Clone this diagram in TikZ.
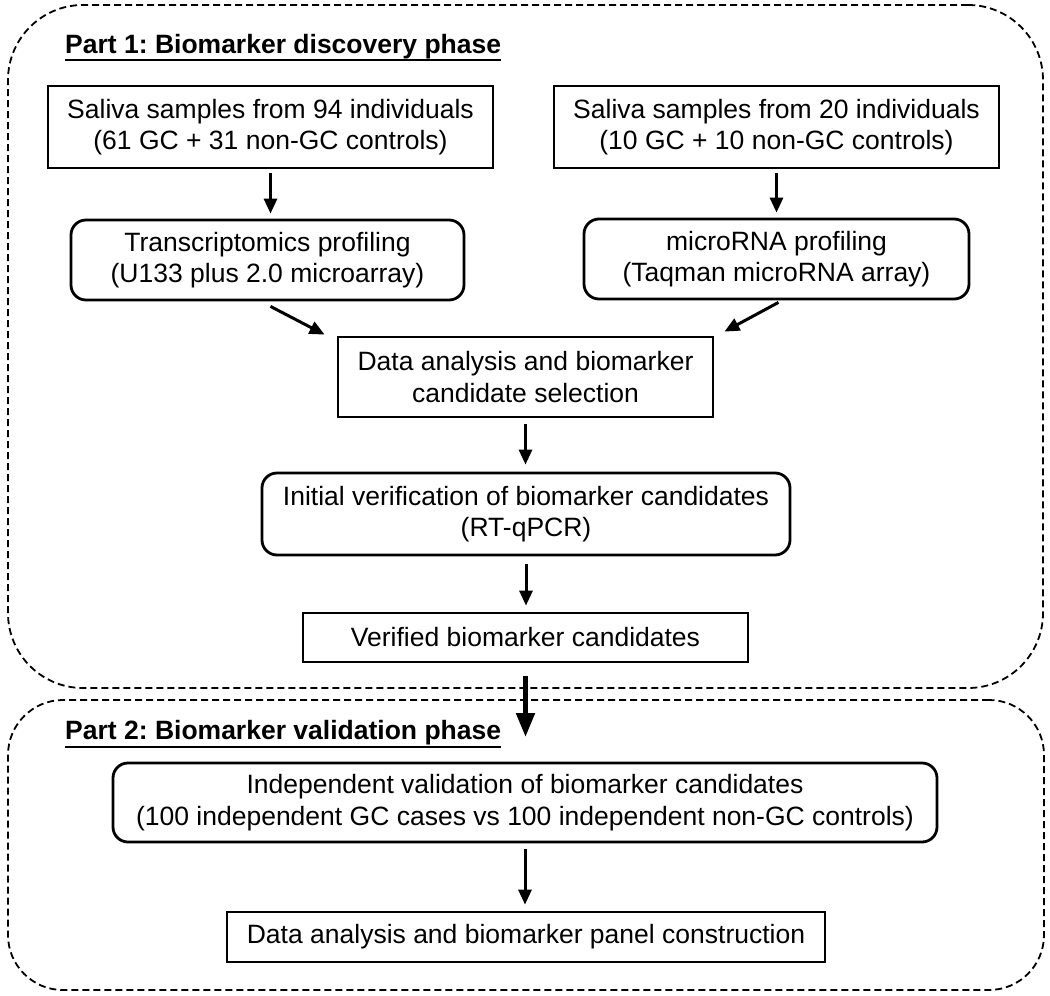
\documentclass[tikz,border=0pt]{standalone}
\usepackage{fontspec}
\setmainfont{Liberation Sans}
\usetikzlibrary{arrows.meta,calc}
\frenchspacing
\begin{document}
\begin{tikzpicture}[x=1pt,y=-1pt,
  txt/.style={font=\fontsize{26.5}{31.5}\selectfont, align=center, inner sep=0pt},
  sqbox/.style={txt, draw, line width=2.8pt},
  rdbox/.style={sqbox, rounded corners=15pt},
  phase/.style={draw, dash pattern=on 7pt off 4pt, line width=1.8pt, inner sep=0pt},
  arr/.style={line width=3pt, -{Triangle[length=15pt,width=13pt]}},
  bigarr/.style={line width=5pt, -{Triangle[length=24pt,width=18pt]}},
  title/.style={font=\fontsize{26.5}{30}\selectfont\bfseries, inner sep=0pt, anchor=base west},
  uline/.style={line width=2.4pt}
]
\useasboundingbox (0,0) rectangle (1050,996);

% phase containers
\node[phase, rounded corners=75pt, minimum width=1035pt, minimum height=683pt] (part1) at (525.5,346.5) {};
\node[phase, rounded corners=55pt, minimum width=1036pt, minimum height=290pt] (part2) at (526,845) {};

% titles
\node[title] (t1) at (65,53) {Part 1: Biomarker discovery phase};
\draw[uline] ($(t1.base west)+(0,7)$) -- ($(t1.base east)+(0,7)$);
\node[title] (t2) at (65,739) {Part 2: Biomarker validation phase};
\draw[uline] ($(t2.base west)+(0,8)$) -- ($(t2.base east)+(0,8)$);

% boxes
\node[sqbox, minimum width=445pt, minimum height=82pt] (A) at (270.5,127) {Saliva samples from 94 individuals\\(61 GC + 31 non-GC controls)};
\node[sqbox, minimum width=445pt, minimum height=82pt] (B) at (776.5,127) {Saliva samples from 20 individuals\\(10 GC + 10 non-GC controls)};
\node[rdbox, minimum width=393pt, minimum height=80pt] (C) at (267.5,260) {Transcriptomics profiling\\(U133 plus 2.0 microarray)};
\node[rdbox, minimum width=385pt, minimum height=80pt] (D) at (776.5,259) {microRNA profiling\\(Taqman microRNA array)};
\node[sqbox, minimum width=375pt, minimum height=80pt] (E) at (525.5,377) {Data analysis and biomarker\\candidate selection};
\node[rdbox, minimum width=528pt, minimum height=82pt] (F) at (526,514) {Initial verification of biomarker candidates\\(RT-qPCR)};
\node[sqbox, minimum width=445pt, minimum height=49pt] (G) at (525.5,637.5) {Verified biomarker candidates};
\node[rdbox, minimum width=824pt, minimum height=79pt] (H) at (525,802.5) {Independent validation of biomarker candidates\\(100 independent GC cases vs 100 independent non-GC controls)};
\node[sqbox, minimum width=598pt, minimum height=50pt] (I) at (526,937) {Data analysis and biomarker panel construction};

\coordinate (bigtip) at (525.5,737);

% connectors
\draw[arr] ($(A.south)+(0,4)$) -- ($(A.south |- C.north)+(0,-5)$);
\draw[arr] ($(B.south)+(0,4)$) -- ($(B.south |- D.north)+(0,-5)$);
\draw[arr] ($(C.south)+(3,5)$) -- ($(E.north west)+(-12,-1)$);
\draw[arr] ($(D.south)+(2,2)$) -- ($(E.north east)+(10,-4)$);
\draw[arr] ($(E.south)+(0,6)$) -- ($(E.south |- F.north)+(0,-7)$);
\draw[arr] ($(F.south)+(0,8)$) -- ($(F.south |- G.north)+(0,-6)$);
\draw[bigarr] ($(G.south)+(0,13)$) -- (bigtip);
\draw[arr] ($(H.south)+(0,6)$) -- ($(H.south |- I.north)+(0,-6)$);
\end{tikzpicture}
\end{document}
